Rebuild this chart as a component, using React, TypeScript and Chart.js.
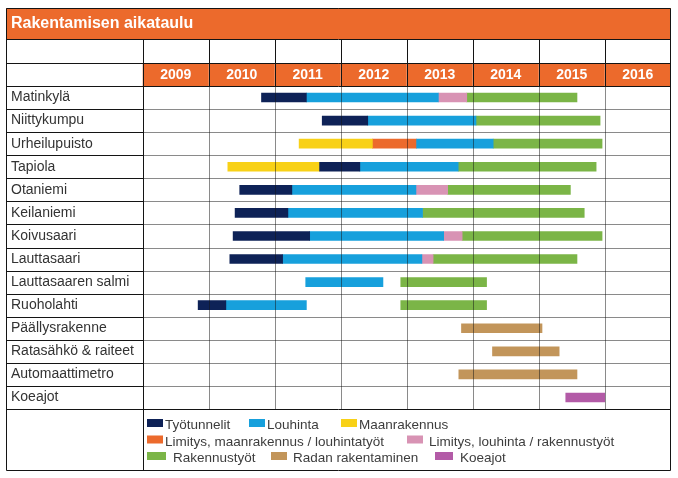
import React, { useEffect, useRef } from 'react';
import { Chart, registerables } from 'chart.js';

Chart.register(...registerables);

const chartTitle = 'Rakentamisen aikataulu';
const years = [2009, 2010, 2011, 2012, 2013, 2014, 2015, 2016];
const categories = [
  'Matinkylä',
  'Niittykumpu',
  'Urheilupuisto',
  'Tapiola',
  'Otaniemi',
  'Keilaniemi',
  'Koivusaari',
  'Lauttasaari',
  'Lauttasaaren salmi',
  'Ruoholahti',
  'Päällysrakenne',
  'Ratasähkö & raiteet',
  'Automaattimetro',
  'Koeajot',
];

type Span = [number, number] | null;

const tyotunnelit: Span[] = [
  [2010.8, 2011.48], [2011.72, 2012.41], null, [2011.68, 2012.29], [2010.47, 2011.26],
  [2010.4, 2011.2], [2010.37, 2011.53], [2010.32, 2011.12], null, [2009.84, 2010.26],
  null, null, null, null,
];
const louhinta: Span[] = [
  [2011.48, 2013.48], [2012.41, 2014.05], [2013.15, 2014.31], [2012.29, 2013.78], [2011.26, 2013.14],
  [2011.2, 2013.24], [2011.53, 2013.56], [2011.12, 2013.23], [2011.47, 2012.64], [2010.26, 2011.48],
  null, null, null, null,
];
const maanrakennus: Span[] = [
  null, null, [2011.37, 2012.48], [2010.29, 2011.68], null,
  null, null, null, null, null,
  null, null, null, null,
];
const limitysMaanrakennusLouhinta: Span[] = [
  null, null, [2012.48, 2013.15], null, null,
  null, null, null, null, null,
  null, null, null, null,
];
const limitysLouhintaRakennus: Span[] = [
  [2013.48, 2013.91], null, null, null, [2013.14, 2013.62],
  null, [2013.56, 2013.84], [2013.23, 2013.4], null, null,
  null, null, null, null,
];
const rakennustyot: Span[] = [
  [2013.91, 2015.58], [2014.05, 2015.93], [2014.31, 2015.96], [2013.78, 2015.87], [2013.62, 2015.48],
  [2013.24, 2015.69], [2013.84, 2015.96], [2013.4, 2015.58], [2012.91, 2014.21], [2012.91, 2014.21],
  null, null, null, null,
];
const radanRakentaminen: Span[] = [
  null, null, null, null, null,
  null, null, null, null, null,
  [2013.83, 2015.05], [2014.3, 2015.31], [2013.79, 2015.58], null,
];
const koeajot: Span[] = [
  null, null, null, null, null,
  null, null, null, null, null,
  null, null, null, [2015.41, 2016.0],
];

const seriesLabels = [
  'Työtunnelit',
  'Louhinta',
  'Maanrakennus',
  'Limitys, maanrakennus / louhintatyöt',
  'Limitys, louhinta / rakennustyöt',
  'Rakennustyöt',
  'Radan rakentaminen',
  'Koeajot',
];
const seriesData = [
  tyotunnelit,
  louhinta,
  maanrakennus,
  limitysMaanrakennusLouhinta,
  limitysLouhintaRakennus,
  rakennustyot,
  radanRakentaminen,
  koeajot,
];
const seriesColors = [
  '#0e2257',
  '#17a0dc',
  '#f8d117',
  '#ec6a2c',
  '#d893b4',
  '#7bb547',
  '#c2955a',
  '#b35ba7',
];

const ORANGE = '#ec6a2c';
const LINE = '#141414';
const FONT = "'Liberation Sans', Arial, Helvetica, sans-serif";

// legend layout: swatch x, swatch width, text x, row
const legendLayout = [
  [147, 16, 165, 0],
  [249, 16, 267, 0],
  [341, 16, 359, 0],
  [147, 16, 165, 1],
  [407, 16, 429, 1],
  [147, 19, 173, 2],
  [271, 16, 293, 2],
  [435, 18, 460, 2],
];
const legendBaselines = [429, 445.5, 462];

const framePlugin = {
  id: 'tableFrame',
  beforeDraw(chart: any) {
    const { ctx, width, height } = chart;
    const xs = chart.scales.x;
    ctx.save();
    ctx.fillStyle = '#ffffff';
    ctx.fillRect(0, 0, width, height);
    // title bar
    ctx.fillStyle = ORANGE;
    ctx.fillRect(6, 8, 665, 31);
    ctx.fillStyle = '#ffffff';
    ctx.font = `bold 16px ${FONT}`;
    ctx.textBaseline = 'middle';
    ctx.textAlign = 'left';
    ctx.fillText(chartTitle, 11, 24);
    // year header cells
    years.forEach((yr) => {
      const x0 = xs.getPixelForValue(yr);
      const x1 = xs.getPixelForValue(yr + 1);
      ctx.fillStyle = ORANGE;
      ctx.fillRect(x0, 63, x1 - x0, 23);
      ctx.fillStyle = '#ffffff';
      ctx.font = `bold 14px ${FONT}`;
      ctx.textAlign = 'center';
      ctx.fillText(String(yr), (x0 + x1) / 2, 75);
    });
    ctx.restore();
  },
  afterDatasetsDraw(chart: any) {
    const { ctx, chartArea } = chart;
    const xs = chart.scales.x;
    const ys = chart.scales.y;
    const left = 6.5;
    const right = 670.5;
    const colX = Math.round(chartArea.left) + 0.5;
    const n = categories.length;
    const step = (ys.getPixelForValue(n - 1) - ys.getPixelForValue(0)) / (n - 1);
    const bounds: number[] = [];
    for (let i = 1; i < n; i++) bounds.push(Math.round(ys.getPixelForValue(i) - step / 2) + 0.5);
    const top = Math.round(chartArea.top) + 0.5;
    const bottom = Math.round(chartArea.bottom) + 0.5;
    ctx.save();
    ctx.strokeStyle = LINE;
    ctx.lineWidth = 1;
    // dotted grid in data area
    ctx.setLineDash([1, 1]);
    ctx.beginPath();
    bounds.forEach((y) => {
      ctx.moveTo(colX, y);
      ctx.lineTo(right, y);
    });
    years.slice(1).forEach((yr) => {
      const x = Math.round(xs.getPixelForValue(yr)) + 0.5;
      ctx.moveTo(x, top);
      ctx.lineTo(x, bottom);
    });
    ctx.stroke();
    // solid lines
    ctx.setLineDash([]);
    ctx.beginPath();
    ctx.rect(left, 8.5, right - left, 470.5 - 8.5);
    [39.5, 63.5, top, bottom].forEach((y) => {
      ctx.moveTo(left, y);
      ctx.lineTo(right, y);
    });
    bounds.forEach((y) => {
      ctx.moveTo(left, y);
      ctx.lineTo(colX, y);
    });
    ctx.moveTo(colX, 39.5);
    ctx.lineTo(colX, 470.5);
    years.slice(1).forEach((yr) => {
      const x = Math.round(xs.getPixelForValue(yr)) + 0.5;
      ctx.moveTo(x, 39.5);
      ctx.lineTo(x, top);
    });
    ctx.stroke();
    ctx.restore();
  },
  afterDraw(chart: any) {
    const { ctx } = chart;
    ctx.save();
    chart.data.datasets.forEach((ds: any, i: number) => {
      const [sx, sw, tx, row] = legendLayout[i];
      const base = legendBaselines[row];
      ctx.fillStyle = ds.backgroundColor;
      ctx.fillRect(sx, base - 10, sw, 8);
      ctx.fillStyle = '#3d3d3d';
      ctx.font = `13.5px ${FONT}`;
      ctx.textAlign = 'left';
      ctx.textBaseline = 'alphabetic';
      ctx.fillText(ds.label, tx, base);
    });
    ctx.restore();
  },
};

export default function App() {
  const canvasRef = useRef<HTMLCanvasElement | null>(null);

  useEffect(() => {
    const canvas = canvasRef.current;
    if (!canvas) return;
    const chart = new Chart(canvas, {
      type: 'bar',
      data: {
        labels: categories,
        datasets: seriesLabels.map((label, i) => ({
          label,
          data: seriesData[i] as any,
          backgroundColor: seriesColors[i],
          borderWidth: 0,
          borderSkipped: false,
          barThickness: 9,
          grouped: false,
        })),
      },
      options: {
        indexAxis: 'y',
        responsive: false,
        animation: false,
        devicePixelRatio: 1,
        layout: { padding: { left: 11, right: 7.3, top: 86, bottom: 69 } },
        plugins: {
          legend: { display: false },
          tooltip: { enabled: false },
          title: { display: false },
        },
        scales: {
          x: { type: 'linear', min: 2009, max: 2017, display: false },
          y: {
            type: 'category',
            offset: true,
            grid: { display: false },
            border: { display: false },
            ticks: {
              crossAlign: 'far',
              padding: 0,
              color: '#333333',
              font: { family: FONT, size: 14 },
            },
            afterFit: (scale: any) => {
              scale.width = 131.7;
            },
          },
        },
      } as any,
      plugins: [framePlugin],
    });
    return () => chart.destroy();
  }, []);

  return (
    <div style={{ position: 'absolute', left: 0, top: 0, width: 678, height: 478 }}>
      <canvas ref={canvasRef} width={678} height={478} style={{ display: 'block' }} />
    </div>
  );
}
